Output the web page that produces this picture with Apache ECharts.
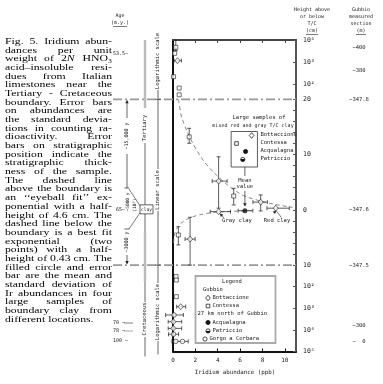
<!DOCTYPE html>
<html>
<head>
<meta charset="utf-8">
<script src="https://cdn.jsdelivr.net/npm/echarts@6.0.0/dist/echarts.min.js"></script>
<style>
html,body{margin:0;padding:0;background:#fff;}
#chart{width:383px;height:384px;}
</style>
</head>
<body>
<div id="chart"></div>
<script>
// ---------------- DATA ----------------
const ppbTicks = [0, 2, 4, 6, 8, 10];
const heightMajorTicks = [10000, 1000, 100, 20, 10, 0, -10, -100, -1000, -10000, -100000];
const heightMajorLabels = ['10⁴', '10³', '10²', '20', '10', '0', '10', '10²', '10³', '10⁴', '10⁵'];
const heightMinorTicks = [18, 16, 14, 12, 8, 6, 4, 2, -2, -4, -6, -8];
const gubbioSectionLabels = ['−400', '−380', '−347.8', '−347.6', '−347.5', '−300', '−  0'];
const gubbioSectionHeights = [4300, 390, 20, 0, -10, -6600, -36000];
const ageLabels = ['53.5–', '65–', '70 —', '78 —', '100 —'];
const ageHeights = [2500, 0, -4800, -11300, -32600];

// rows: [Ir ppb, height cm, ppb low, ppb high, height low, height high]
const bottaccione = [
  [0.40, 1150, 0.10, 0.75, null, null],
  [4.08, 5.2, 3.50, 4.84, 0.3, 9.6],
  [7.84, 1.4, 7.15, 8.44, -0.2, 2.7],
  [9.19, 0.3, 8.40, 10.40, null, null],
  [4.08, -0.33, 3.33, 5.14, null, null],
  [1.53, -5.3, 1.08, 1.98, -10, -1.34],
  [0.69, -843, 0.33, 1.14, null, null],
  [0.03, -4170, -0.43, 0.78, null, null],
  [0.03, -8500, -0.43, 0.78, null, null]
];
const contessa = [
  [0.25, 4650, null, null, 3300, 10000],
  [0.15, 2480, null, null, null, null],
  [0.05, 214, null, null, null, null],
  [0.55, 65, null, null, null, null],
  [0.55, 32, null, null, null, null],
  [1.45, 13.2, null, null, 12.05, 14.76],
  [5.43, 2.5, null, null, 0.88, 3.9],
  [0.48, -4.55, null, null, -6.35, -3.05],
  [0.27, -34, null, null, null, null],
  [0.30, -49, null, null, null, null],
  [0.30, -290, null, null, null, null]
];
const gorgoACerbara = [
  [0.09, -2040, -0.66, 0.93, null, null],
  [0.05, -15900, -0.40, 0.50, null, null],
  [0.25, -34000, -0.10, 1.36, null, null],
  [0.85, -34000, null, null, null, null]
];
const meanValue = [[6.43, -0.15, 5.83, 7.14, null, null]];
// large samples of mixed red and gray T/C clay (Ir ppb)
const largeSampleNames = ['Bottaccione', 'Contessa', 'Acqualagna', 'Patriccio'];
const largeSamplePpb = [7.03, 5.68, 6.49, 6.24];
// dashed fit lines: [ppb, height cm]
const fitAbove = [[0.5, 20], [0.72, 17.2], [1.0, 15.5], [1.35, 13.8], [2.0, 11.2], [3.0, 8.2], [4.2, 5.7], [5.2, 4.0], [6.3, 2.6], [7.3, 1.9], [8.3, 1.35], [9.5, 0.85], [10.7, 0.45]];
const fitBelow = [[0.05, -6], [0.2, -4], [0.6, -2.7], [1.0, -2.0], [1.5, -1.45], [2.2, -1.0], [2.8, -0.72], [3.5, -0.5], [4.2, -0.36], [5.5, -0.25], [7.0, -0.15]];

const captionLines = [
  'Fig. 5. Iridium abun-', 'dances per unit', 'weight of 2N HNO₃', 'acid–insoluble resi-',
  'dues from Italian', 'limestones near the', 'Tertiary - Cretaceous', 'boundary. Error bars',
  'on abundances are', 'the standard devia-', 'tions in counting ra-', 'dioactivity. Error',
  'bars on stratigraphic', 'position indicate the', 'stratigraphic thick-', 'ness of the sample.',
  'The dashed line', 'above the boundary is', 'an ‘‘eyeball fit’’ ex-', 'ponential with a half-',
  'height of 4.6 cm. The', 'dashed line below the', 'boundary is a best fit', 'exponential (two',
  'points) with a half-', 'height of 0.43 cm. The', 'filled circle and error', 'bar are the mean and',
  'standard deviation of', 'Ir abundances in four', 'large samples of', 'boundary clay from',
  'different locations.'
];

// ---------------- SCALE (piecewise log / linear / log) ----------------
const D_UP = 3.98, D_DN = 3.91;
function tf(h) {
  if (h > 20) return 20 + D_UP * Math.log10(h / 20);
  if (h < -10) return -10 - D_DN * Math.log10(-h / 10);
  return h;
}
const Y_MIN = tf(-100000), Y_MAX = tf(10000);

const chart = echarts.init(document.getElementById('chart'), null, {renderer: 'canvas'});
const MONO = '"DejaVu Sans Mono", "Liberation Mono", monospace';
const INK = '#222';

function toPts(rows) { return rows.map(r => [r[0], tf(r[1])]); }

function errSeries(rows) {
  return {
    type: 'custom', z: 3, silent: true,
    data: rows.map(r => [r[0], tf(r[1])]),
    encode: {x: 0, y: 1},
    renderItem: function (params, api) {
      const r = rows[params.dataIndex];
      const ch = [];
      const st = {stroke: '#333', lineWidth: 0.8};
      if (r[2] !== null) {
        const a = api.coord([r[2], tf(r[1])]), b = api.coord([r[3], tf(r[1])]);
        ch.push({type: 'line', shape: {x1: a[0], y1: a[1], x2: b[0], y2: b[1]}, style: st});
        ch.push({type: 'line', shape: {x1: a[0], y1: a[1] - 2, x2: a[0], y2: a[1] + 2}, style: st});
        ch.push({type: 'line', shape: {x1: b[0], y1: b[1] - 2, x2: b[0], y2: b[1] + 2}, style: st});
      }
      if (r[4] !== null) {
        const a = api.coord([r[0], tf(r[4])]), b = api.coord([r[0], tf(r[5])]);
        ch.push({type: 'line', shape: {x1: a[0], y1: a[1], x2: b[0], y2: b[1]}, style: st});
        ch.push({type: 'line', shape: {x1: a[0] - 2, y1: a[1], x2: a[0] + 2, y2: a[1]}, style: st});
        ch.push({type: 'line', shape: {x1: b[0] - 2, y1: b[1], x2: b[0] + 2, y2: b[1]}, style: st});
      }
      return {type: 'group', children: ch};
    }
  };
}

const openStyle = {color: '#fff', borderColor: '#222', borderWidth: 0.8};
const halfFill = {
  color: {type: 'linear', x: 0, y: 0, x2: 0, y2: 1, colorStops: [
    {offset: 0, color: '#fff'}, {offset: 0.5, color: '#fff'}, {offset: 0.5, color: '#111'}, {offset: 1, color: '#111'}]},
  borderColor: '#111', borderWidth: 0.8
};

function nearestLabel(ticks, labels) {
  return function (v) {
    let best = 0, bd = 1e9;
    ticks.forEach((h, i) => { const d = Math.abs(tf(h) - v); if (d < bd) { bd = d; best = i; } });
    return labels[best];
  };
}

const option = {
  animation: false,
  backgroundColor: '#fff',
  grid: {left: 173, top: 40, width: 123, height: 311.5, containLabel: false, outerBoundsMode: 'none'},
  xAxis: [
    {type: 'value', position: 'bottom', min: 0, max: 11, interval: 2,
      axisLine: {show: true, onZero: false, lineStyle: {color: '#111', width: 2}},
      axisTick: {show: true, inside: true, length: 3, customValues: ppbTicks.slice(1), lineStyle: {color: '#111'}},
      axisLabel: {customValues: ppbTicks, fontSize: 6, color: INK, fontFamily: MONO, margin: 6},
      splitLine: {show: false}},
    {type: 'value', position: 'top', min: 0, max: 11, interval: 2,
      axisLine: {show: true, onZero: false, lineStyle: {color: '#444', width: 2}},
      axisTick: {show: true, inside: true, length: 3, customValues: ppbTicks.slice(1), lineStyle: {color: '#444'}},
      axisLabel: {show: false}, splitLine: {show: false}}
  ],
  yAxis: [
    {type: 'value', position: 'right', min: Y_MIN, max: Y_MAX,
      axisLine: {show: true, onZero: false, lineStyle: {color: '#555', width: 2}},
      axisTick: {show: true, inside: true, length: 3, lineStyle: {color: '#555'},
        customValues: heightMajorTicks.concat(heightMinorTicks).map(tf)},
      axisLabel: {customValues: heightMajorTicks.map(tf), fontSize: 6.5, color: INK, fontFamily: MONO, margin: 7,
        formatter: nearestLabel(heightMajorTicks, heightMajorLabels)},
      splitLine: {show: false}},
    {type: 'value', position: 'left', min: Y_MIN, max: Y_MAX,
      axisLine: {show: true, onZero: false, lineStyle: {color: '#111', width: 2}},
      axisTick: {show: false}, axisLabel: {show: false}, splitLine: {show: false}},
    {type: 'value', position: 'right', offset: 53, min: Y_MIN, max: Y_MAX,
      axisLine: {show: false}, axisTick: {show: false}, splitLine: {show: false},
      axisLabel: {customValues: gubbioSectionHeights.map(tf), fontSize: 5.5, color: INK, fontFamily: MONO,
        margin: 10, align: 'center',
        formatter: nearestLabel(gubbioSectionHeights, gubbioSectionLabels)}}
  ],
  series: [
    {type: 'line', data: toPts(fitAbove), smooth: 0.4, symbol: 'none', silent: true, z: 1,
      lineStyle: {color: '#777', width: 0.9, type: [4, 3]}},
    {type: 'line', data: toPts(fitBelow), smooth: 0.4, symbol: 'none', silent: true, z: 1,
      lineStyle: {color: '#777', width: 0.9, type: [4, 3]}},
    errSeries(bottaccione), errSeries(contessa), errSeries(gorgoACerbara), errSeries(meanValue),
    {type: 'scatter', data: toPts(bottaccione), symbol: 'diamond', symbolSize: [5, 6], itemStyle: openStyle, z: 5},
    {type: 'scatter', data: toPts(contessa), symbol: 'rect', symbolSize: 4, itemStyle: openStyle, z: 5},
    {type: 'scatter', data: toPts(gorgoACerbara), symbol: 'circle', symbolSize: 4.5, itemStyle: openStyle, z: 5},
    {type: 'scatter', data: toPts(meanValue), symbol: 'circle', symbolSize: 5, itemStyle: {color: '#111'}, z: 5}
  ]
};
chart.setOption(option);

// ---------------- ANNOTATIONS ----------------
function P(x, h) { return chart.convertToPixel({xAxisIndex: 0, yAxisIndex: 0}, [x, tf(h)]); }
function Y(h) { return P(0, h)[1]; }
const g = [];
function txt(x, y, s, o) {
  o = o || {};
  g.push({type: 'text', x: x, y: y, rotation: o.rot || 0, z: 10,
    style: {text: s, font: (o.size || 5.5) + 'px ' + MONO, fill: o.color || INK,
      textAlign: o.align || 'left', textVerticalAlign: 'middle'}});
}
function ln(x1, y1, x2, y2, o) {
  o = o || {};
  g.push({type: 'line', z: o.z || 9, shape: {x1, y1, x2, y2},
    style: {stroke: o.color || INK, lineWidth: o.w || 0.8, lineDash: o.dash || null}});
}
function arrowHead(x, y, dir, size) {
  size = size || 3;
  const pts = dir === 'down' ? [[x, y], [x - size * 0.6, y - size], [x + size * 0.6, y - size]]
    : dir === 'up' ? [[x, y], [x - size * 0.6, y + size], [x + size * 0.6, y + size]]
    : dir === 'upleft' ? [[x, y], [x + 1, y + 3.5], [x + 3.5, y + 1.2]]
    : [[x, y], [x - 1, y + 3.5], [x - 3.5, y + 1.2]];
  g.push({type: 'polygon', z: 10, shape: {points: pts}, style: {fill: INK}});
}

const y20 = Y(20), y0 = Y(0), yM10 = Y(-10), yTop = Y(10000), yBot = Y(-100000);
const xRight = P(11, 0)[0];

// dashed boundary lines of the scale sections
ln(113, y20, xRight, y20, {color: '#999', w: 1.6, dash: [9, 3, 2, 3], z: 2});
ln(113, yM10, xRight, yM10, {color: '#999', w: 1.6, dash: [9, 3, 2, 3], z: 2});

// caption (justified, slightly widened serif type)
const CAP_PX = 9.2;
const capFont = CAP_PX + 'px "Liberation Serif", "DejaVu Serif", serif';
const mctx = document.createElement('canvas').getContext('2d');
mctx.font = capFont;
const CAP_L = 5, CAP_R = 112, CAP_TOP = 41.5, CAP_LH = 8.68;
const natural = captionLines.map(l => mctx.measureText(l).width);
const SX = (CAP_R - CAP_L) / Math.max.apply(null, natural);
captionLines.forEach((line, i) => {
  const y = CAP_TOP + i * CAP_LH;
  const words = line.split(' ');
  const widths = words.map(w => mctx.measureText(w).width * SX);
  const total = widths.reduce((a, b) => a + b, 0);
  const last = i === captionLines.length - 1;
  const gap = (last || words.length < 2) ? mctx.measureText(' ').width * SX : (CAP_R - CAP_L - total) / (words.length - 1);
  let x = CAP_L;
  words.forEach((w, j) => {
    let s = w, rich;
    if (w === '2N') { s = '2{i|N}'; rich = {i: {font: 'italic ' + CAP_PX + 'px "Liberation Serif", serif', fill: '#000'}}; }
    g.push({type: 'text', x: x, y: y, z: 10, scaleX: SX,
      style: {text: s, font: capFont, fill: '#000', textVerticalAlign: 'middle', rich: rich}});
    x += widths[j] + gap;
  });
});

// headers
txt(120, 16, 'Age', {align: 'center', size: 5});
txt(120, 23, '(m.y.)', {align: 'center', size: 5});
ln(113, 26.5, 127, 26.5, {w: 0.6});
['Height above', 'or below', 'T/C', '(cm)'].forEach((s, i) => txt(312, 10 + i * 7, s, {align: 'center', size: 5}));
ln(306, 34.5, 318, 34.5, {w: 0.6});
['Gubbio', 'measured', 'section', '(m)'].forEach((s, i) => txt(361, 10 + i * 7, s, {align: 'center', size: 5}));
ln(356, 34.5, 366, 34.5, {w: 0.6});

// age labels
ageLabels.forEach((s, i) => {
  txt(i === 1 ? 116 : 113, Y(ageHeights[i]), s, {size: 5});
});

// stratigraphic column
const xCol = 145, xScale = 158, xYrs = 127;
ln(xCol, yTop, xCol, 108, {color: '#bbb', w: 2.5});
txt(xCol, 128, 'Tertiary', {rot: Math.PI / 2, align: 'center'});
ln(xCol, 143, xCol, y0 - 5, {w: 0.7});
g.push({type: 'rect', z: 10, shape: {x: 140, y: y0 - 5, width: 13, height: 9}, style: {fill: '#fff', stroke: INK, lineWidth: 0.7}});
txt(146.5, y0 - 0.5, 'clay', {align: 'center', size: 4.5});
ln(xCol, y0 + 4, xCol, 302, {w: 0.7});
ln(xCol, 232, xCol, 282, {color: '#bbb', w: 2.5});
txt(xCol, 319, 'Cretaceous', {rot: Math.PI / 2, align: 'center'});
ln(xCol, 337, xCol, yBot + 5, {w: 0.7});
ln(124, Y(-4800), 133, Y(-4800), {color: '#aaa', w: 1.5});
ln(124, Y(-11300), 133, Y(-11300), {color: '#aaa', w: 1});

// scale indicators
txt(xScale, 61, 'Logarithmic scale', {rot: Math.PI / 2, align: 'center'});
ln(xScale, 90, xScale, y20, {w: 0.7});
txt(xScale, 190, 'Linear scale', {rot: Math.PI / 2, align: 'center'});
ln(xScale, y20, xScale, 169, {w: 0.7});
ln(xScale, 211, xScale, yM10, {w: 0.7});
txt(xScale, 312, 'Logarithmic scale', {rot: Math.PI / 2, align: 'center'});
ln(xScale, yM10, xScale, 283, {w: 0.7});
ln(xScale, 341, xScale, yBot + 3, {w: 0.7});
[y20, yM10].forEach(y => ln(xScale - 2.5, y, xScale + 2.5, y, {w: 0.7}));

// deposition times
ln(xYrs, y20 + 1, xYrs, 118, {w: 0.7});
arrowHead(xYrs, y20 + 1, 'up');
txt(xYrs, 136, '~15,000 y', {rot: Math.PI / 2, align: 'center', size: 5});
ln(xYrs, 154, xYrs, 188, {w: 0.7});
ln(xYrs - 2.5, 188, xYrs + 2.5, 188, {w: 0.7});
txt(xYrs + 1, 202, '~5000 y', {rot: Math.PI / 2, align: 'center', size: 4.5});
txt(xYrs + 8, 205, '(10³)', {rot: Math.PI / 2, align: 'center', size: 4.5});
ln(xYrs + 2, 189, 140, y0 - 4, {w: 0.6});
ln(xYrs + 2, 229, 140, y0 + 3, {w: 0.6});
ln(xYrs - 2.5, 229, xYrs + 2.5, 229, {w: 0.7});
txt(xYrs, 242, '~3000 y', {rot: Math.PI / 2, align: 'center', size: 5});
ln(xYrs, 255, xYrs, yM10 - 1, {w: 0.7});
arrowHead(xYrs, yM10 - 1, 'down');

// large sample inset
const bx1 = P(5.2, 0)[0], bx2 = P(7.55, 0)[0];
const by1 = 131.5, by2 = 167;
g.push({type: 'rect', z: 8, shape: {x: bx1, y: by1, width: bx2 - bx1, height: by2 - by1},
  style: {fill: '#fff', stroke: '#333', lineWidth: 0.8}});
txt(259, 118, 'Large samples of', {align: 'center'});
txt(253, 126, 'mixed red and gray T/C clay', {align: 'center', size: 5});
const rowY = [135.5, 143.5, 151.5, 159.5];
const insetKinds = ['diamond', 'rect', 'filled', 'half'];
function sym(kind, x, y) {
  const st = kind === 'filled' ? {fill: '#111', stroke: '#111', lineWidth: 0.8}
    : kind === 'half' ? {fill: halfFill.color, stroke: '#111', lineWidth: 0.8}
    : {fill: '#fff', stroke: '#222', lineWidth: 0.8};
  if (kind === 'diamond') g.push({type: 'polygon', z: 11, shape: {points: [[x, y - 2.8], [x + 2.3, y], [x, y + 2.8], [x - 2.3, y]]}, style: st});
  else if (kind === 'rect') g.push({type: 'rect', z: 11, shape: {x: x - 1.8, y: y - 1.8, width: 3.6, height: 3.6}, style: st});
  else g.push({type: 'circle', z: 11, shape: {cx: x, cy: y, r: 2.1}, style: st});
}
largeSamplePpb.forEach((v, i) => {
  sym(insetKinds[i], P(v, 0)[0], rowY[i]);
  txt(bx2 + 3, rowY[i] - 0.5, largeSampleNames[i]);
});
const xm = P(meanValue[0][0], 0)[0];
ln(xm, by2, xm, 176, {w: 0.7});
txt(xm, 180.5, 'Mean', {align: 'center'});
txt(xm, 187, 'value', {align: 'center'});
ln(xm, 191, xm, y0 - 4, {w: 0.7});
arrowHead(xm, y0 - 3.5, 'down');

// clay labels
const pg = P(4.08, -0.33), pr = P(9.19, 0.3);
txt(237, 221, 'Gray clay', {align: 'center'});
ln(224, 218, pg[0] + 1.5, pg[1] + 2, {w: 0.6});
arrowHead(pg[0] + 1.2, pg[1] + 1.8, 'upleft', 3);
txt(277, 221, 'Red clay', {align: 'center'});
ln(281, 217, pr[0] + 0.5, pr[1] + 2.5, {w: 0.6});
arrowHead(pr[0] + 0.4, pr[1] + 2.3, 'upright', 3);

// legend box
g.push({type: 'rect', z: 8, shape: {x: 195.5, y: 276, width: 80, height: 67},
  style: {fill: '#fff', stroke: '#aaa', lineWidth: 1.8}});
txt(232, 281.5, 'Legend', {align: 'center'});
txt(203, 290, 'Gubbio');
txt(197.5, 314, '27 km north of Gubbio');
const legRows = [
  {y: 298, name: 'Bottaccione', kind: 'diamond', x: 208},
  {y: 306, name: 'Contessa', kind: 'rect', x: 208},
  {y: 322.5, name: 'Acqualagna', kind: 'filled', x: 208},
  {y: 331, name: 'Patriccio', kind: 'half', x: 208},
  {y: 339, name: 'Gorgo a Cerbara', kind: 'open', x: 205}
];
legRows.forEach(r => { sym(r.kind, r.x, r.y); txt(r.x + 4.5, r.y, r.name); });

// x-axis title
txt(235, 372, 'Iridium abundance (ppb)', {align: 'center', size: 5.8});

chart.setOption({graphic: {elements: g}});
</script>
</body>
</html>
